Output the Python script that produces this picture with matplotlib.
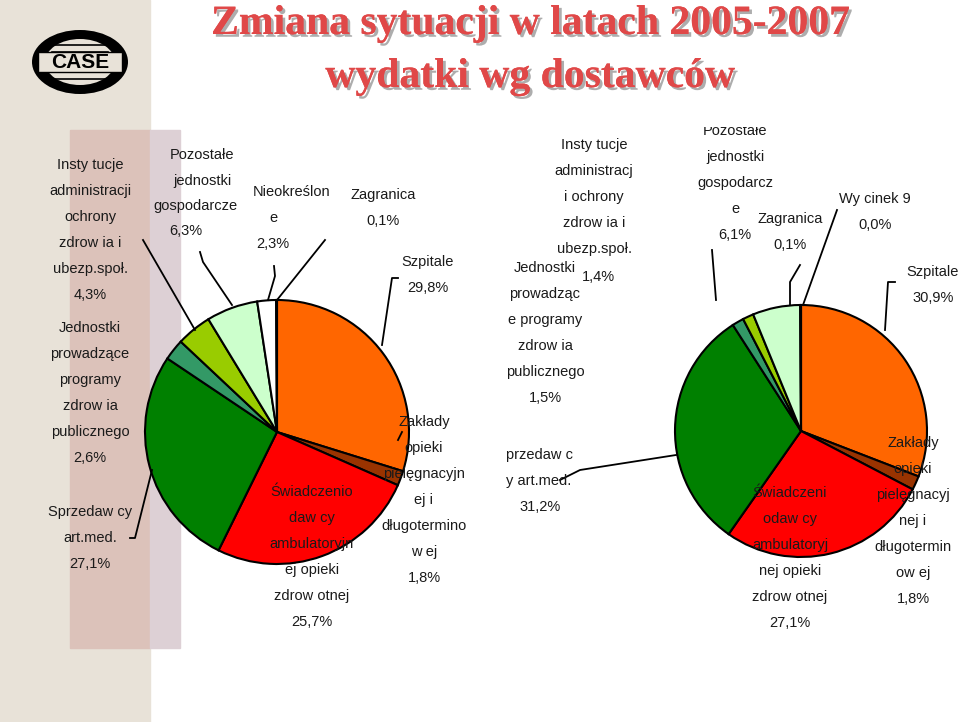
import matplotlib.pyplot as plt
from matplotlib.patches import Rectangle, Ellipse
import matplotlib.patheffects as pe

W, H = 960, 722

# slice order clockwise from 12 o'clock
colors = ['#FF6600', '#993300', '#FF0000', '#008000', '#339966', '#99CC00', '#CCFFCC', '#FFFFFF', '#FFFFFF']
left_vals = [29.8, 1.8, 25.7, 27.1, 2.6, 4.3, 6.3, 2.3, 0.1]
right_vals = [30.9, 1.8, 27.1, 31.2, 1.5, 1.4, 6.1, 0.1, 0.0]
right_colors = ['#FF6600', '#993300', '#FF0000', '#008000', '#339966', '#99CC00', '#CCFFCC', '#FFFFFF', '#FFFFFF']

title_lines = ['Zmiana sytuacji w latach 2005-2007', 'wydatki wg dostawców']

# label blocks: (x, y of first line, lines)
left_labels = [
    (90, 165, ['Insty tucje', 'administracji', 'ochrony', 'zdrow ia i', 'ubezp.społ.', '4,3%']),
    (90, 328, ['Jednostki', 'prowadzące', 'programy', 'zdrow ia', 'publicznego', '2,6%']),
    (90, 512, ['Sprzedaw cy', 'art.med.', '27,1%']),
    (202, 155, ['Pozostałe', 'jednostki']),
    (195, 206, ['gospodarcze']),
    (186, 231, ['6,3%']),
    (292, 192, ['Nieokreślon']),
    (273, 218, ['e', '2,3%']),
    (383, 195, ['Zagranica', '0,1%']),
    (428, 262, ['Szpitale', '29,8%']),
    (424, 422, ['Zakłady', 'opieki', 'pielęgnacyjn', 'ej i', 'długotermino', 'w ej', '1,8%']),
    (312, 492, ['Świadczenio', 'daw cy', 'ambulatoryjn', 'ej opieki', 'zdrow otnej', '25,7%']),
]
right_labels = [
    (594, 145, ['Insty tucje', 'administracj', 'i ochrony', 'zdrow ia i', 'ubezp.społ.']),
    (598, 277, ['1,4%']),
    (545, 268, ['Jednostki', 'prowadząc', 'e programy', 'zdrow ia', 'publicznego', '1,5%']),
    (540, 507, ['31,2%']),
    (735, 131, ['Pozostałe', 'jednostki', 'gospodarcz', 'e', '6,1%']),
    (790, 219, ['Zagranica', '0,1%']),
    (875, 199, ['Wy cinek 9', '0,0%']),
    (933, 272, ['Szpitale', '30,9%']),
    (913, 443, ['Zakłady', 'opieki', 'pielęgnacyj', 'nej i', 'długotermin', 'ow ej', '1,8%']),
    (790, 493, ['Świadczeni', 'odaw cy', 'ambulatoryj', 'nej opieki', 'zdrow otnej', '27,1%']),
]
# partially hidden label (cut off at the left edge of its box)
right_cut = [(506, 455, 'przedaw c'), (506, 481, 'y art.med.')]

left_lines = [
    [(143, 240), (195, 330)],
    [(200, 252), (203, 262), (232, 305)],
    [(274, 266), (275, 276), (268, 300)],
    [(325, 240), (277, 300)],
    [(398, 278), (392, 278), (382, 345)],
    [(402, 432), (398, 440)],
    [(130, 538), (135, 538), (152, 470)],
]
right_lines = [
    [(560, 480), (580, 470), (676, 455)],
    [(712, 250), (716, 300)],
    [(800, 265), (790, 282), (790, 305)],
    [(837, 210), (803, 305)],
    [(895, 282), (888, 282), (885, 330)],
]

fig = plt.figure(figsize=(W / 100, H / 100), dpi=100)
ax = fig.add_axes([0, 0, 1, 1])

def Y(y):
    return H - y

# background strip
ax.add_patch(Rectangle((0, 0), 150, H, color='#E8E2D8', zorder=0))
ax.add_patch(Rectangle((70, Y(648)), 80, 648 - 130, color='#DCC2BA', zorder=0.5))
ax.add_patch(Rectangle((150, Y(648)), 30, 648 - 130, color='#DDD0D5', zorder=0.5))

# logo
ax.add_patch(Ellipse((80, Y(62)), 96, 64, facecolor='black', zorder=1))
ax.add_patch(Ellipse((80, Y(62)), 70, 46, facecolor='#E8E2D8', zorder=1.1))
for yy in [45, 52, 72, 79]:
    ax.plot([52, 108], [Y(yy), Y(yy)], color='black', lw=1.2, zorder=1.2)
ax.add_patch(Rectangle((38, Y(72)), 84, 20, facecolor='#E8E2D8', edgecolor='black', lw=1, zorder=1.3))
ax.text(80, Y(62), 'CASE', ha='center', va='center', fontsize=15, fontweight='bold',
        family='Liberation Sans', zorder=1.4)

for i, t in enumerate(title_lines):
    ax.text(530, Y(24 + 53 * i), t, ha='center', va='center', fontsize=30, fontweight='bold',
            family='Liberation Serif', color='#E04848',
            path_effects=[pe.withSimplePatchShadow(offset=(2, -2), shadow_rgbFace='#999999', alpha=0.8), pe.Normal()])

def pie(vals, cols, cx, cy, r):
    ax.pie(vals, colors=cols, startangle=90, counterclock=False, center=(cx, Y(cy)), radius=r,
           wedgeprops=dict(edgecolor='black', linewidth=1.5), frame=True)

pie(left_vals, colors, 277, 432, 132)
pie(right_vals, right_colors, 801, 431, 126)
ax.set_xlim(0, W)
ax.set_ylim(0, H)
ax.set_aspect('equal')
ax.axis('off')

for blocks in (left_labels, right_labels):
    for x, y, lines in blocks:
        for j, s in enumerate(lines):
            ax.text(x, Y(y + 26 * j), s, ha='center', va='center', fontsize=10.5,
                    family='Liberation Sans', color='#1a1a1a', zorder=5)
for x, y, s in right_cut:
    ax.text(x, Y(y), s, ha='left', va='center', fontsize=10.5,
            family='Liberation Sans', color='#1a1a1a', zorder=5)

# top of the right "Pozostałe" label is hidden
ax.add_patch(Rectangle((690, Y(127)), 100, 26, facecolor='white', zorder=6))

for seg in left_lines + right_lines:
    xs = [p[0] for p in seg]
    ys = [Y(p[1]) for p in seg]
    ax.plot(xs, ys, color='black', lw=1.3, zorder=4)

fig.savefig('out.png', dpi=100)
